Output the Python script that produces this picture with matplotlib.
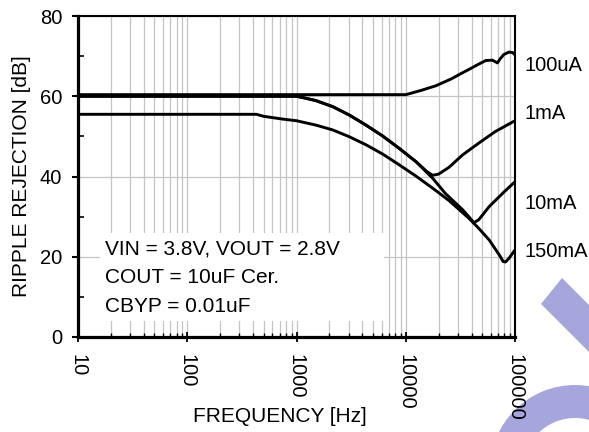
import numpy as np
import matplotlib
matplotlib.use("Agg")
import matplotlib.pyplot as plt
from matplotlib.ticker import FixedLocator, FixedFormatter, LogLocator, MultipleLocator, NullFormatter
from matplotlib.patches import Rectangle, Polygon, Wedge

plt.rcParams['font.family'] = ['Liberation Sans', 'DejaVu Sans']

# ---- data (frequency in Hz, rejection in dB) ----
freq_100ua = [10, 10000, 11000, 14000, 18800, 26000, 32800, 38600, 45000, 54000,
              62000, 66000, 69000, 73000, 79000, 88000, 95000, 100000]
db_100ua = [60.4, 60.4, 60.7, 61.5, 62.6, 64.3, 65.8, 66.8, 67.8, 68.9,
            69.0, 68.6, 68.3, 69.3, 70.4, 71.0, 70.9, 70.3]

freq_1ma = [10, 1000, 1220, 1510, 2150, 3050, 4330, 6140, 8720, 12400,
            15500, 17600, 20000, 24900, 33200, 46500, 66000, 100000]
db_1ma = [60.0, 60.0, 59.5, 58.9, 57.4, 55.3, 52.8, 50.1, 47.0, 43.7,
          41.3, 40.3, 40.6, 42.3, 45.4, 48.3, 51.2, 53.9]

freq_10ma = [10, 1000, 1220, 1510, 2150, 3050, 4330, 6140, 8720, 12400,
             17600, 23000, 33200, 38000, 42000, 46500, 58000, 77000, 100000]
db_10ma = [60.0, 60.0, 59.5, 58.9, 57.4, 55.3, 52.8, 50.1, 47.0, 43.7,
           39.6, 35.8, 31.7, 29.9, 28.5, 29.2, 32.5, 35.8, 38.7]

freq_150ma = [10, 430, 500, 750, 1000, 1510, 2150, 3050, 4330, 6140, 8720,
              12400, 17600, 24900, 37800, 46500, 58000, 72000, 78000, 82000, 88000, 100000]
db_150ma = [55.5, 55.5, 55.0, 54.3, 53.9, 52.8, 51.6, 49.9, 47.9, 45.6, 42.9,
            40.1, 37.1, 34.0, 29.6, 27.1, 24.2, 20.4, 18.8, 18.7, 19.6, 21.7]

series = [(freq_100ua, db_100ua), (freq_1ma, db_1ma), (freq_10ma, db_10ma), (freq_150ma, db_150ma)]
curve_names = ["100uA", "1mA", "10mA", "150mA"]
label_db = [67.7, 55.7, 33.2, 21.2]

x_ticks = [10, 100, 1000, 10000, 100000]
x_ticklabels = ["10", "100", "1000", "10000", "100000"]
y_ticks = [0, 20, 40, 60, 80]

note_lines = ["VIN = 3.8V, VOUT = 2.8V", "COUT = 10uF Cer.", "CBYP = 0.01uF"]

W, H = 589, 432
fig = plt.figure(figsize=(W / 100, H / 100), dpi=100)
ax = fig.add_axes([78 / W, 1 - 337 / H, 437 / W, 321 / H])

for f, d in series:
    ax.plot(f, d, color='black', lw=2.1, solid_capstyle='butt', zorder=3)

ax.set_xscale('log')
ax.set_xlim(10, 100000)
ax.set_ylim(0, 80)

ax.xaxis.set_major_locator(FixedLocator(x_ticks))
ax.xaxis.set_major_formatter(FixedFormatter(x_ticklabels))
ax.xaxis.set_minor_locator(LogLocator(base=10, subs=np.arange(2, 10)))
ax.xaxis.set_minor_formatter(NullFormatter())
ax.yaxis.set_major_locator(FixedLocator(y_ticks))
ax.yaxis.set_minor_locator(MultipleLocator(10))

ax.set_axisbelow(True)
ax.grid(True, which='both', axis='x', color='#c4c4c4', lw=0.9)
ax.grid(True, which='major', axis='y', color='#c4c4c4', lw=0.9)

ax.tick_params(axis='x', which='major', direction='inout', length=7, width=1.3,
               pad=9, labelsize=14.5, labelrotation=270)
ax.tick_params(axis='x', which='minor', direction='in', length=3, width=1.0)
ax.tick_params(axis='y', which='major', direction='out', length=4.5, width=1.5,
               pad=7, labelsize=14.5)
ax.tick_params(axis='y', which='minor', direction='in', length=4, width=1.2)
for lab in ax.get_xticklabels():
    lab.set_va('top')
    lab.set_ha('center')

for side in ['left', 'bottom']:
    ax.spines[side].set_linewidth(2.3)
for side in ['top', 'right']:
    ax.spines[side].set_linewidth(1.5)

# white box behind the note, hides the grid
ax.add_patch(Rectangle((0.050, 0.050), 0.650, 0.274, transform=ax.transAxes,
                       facecolor='white', edgecolor='none', zorder=1))
note_y = [0.257, 0.167, 0.078]
for txt, yy in zip(note_lines, note_y):
    ax.text(0.062, yy, txt, transform=ax.transAxes, fontsize=15,
            ha='left', va='baseline', zorder=4)

# curve names on the right
tr = ax.get_yaxis_transform()
for name, yy in zip(curve_names, label_db):
    ax.text(1.021, yy, name, transform=tr, fontsize=14.5, ha='left', va='center',
            clip_on=False)

ax.set_xlabel("FREQUENCY [Hz]", fontsize=15, va='center')
ax.xaxis.set_label_coords(0.462, -0.248)
ax.set_ylabel("RIPPLE REJECTION [dB]", fontsize=15, va='center')
ax.yaxis.set_label_coords(-0.130, 0.5)

# lavender watermark pieces in the lower right corner (figure inches, y up)
wm = '#a6a6dc'
def inch(x, y):
    return (x / 100, (H - y) / 100)
band = Polygon([inch(541, 304), inch(562, 278), inch(640, 356), inch(619, 382)],
               closed=True, transform=fig.dpi_scale_trans, facecolor=wm,
               edgecolor='none', zorder=-1)
fig.patches.append(band)
ring = Wedge(inch(575, 470), 0.85, 0, 360, width=0.33,
             transform=fig.dpi_scale_trans, facecolor=wm, edgecolor='none', zorder=-1)
fig.patches.append(ring)

fig.savefig("out.png", dpi=100)
